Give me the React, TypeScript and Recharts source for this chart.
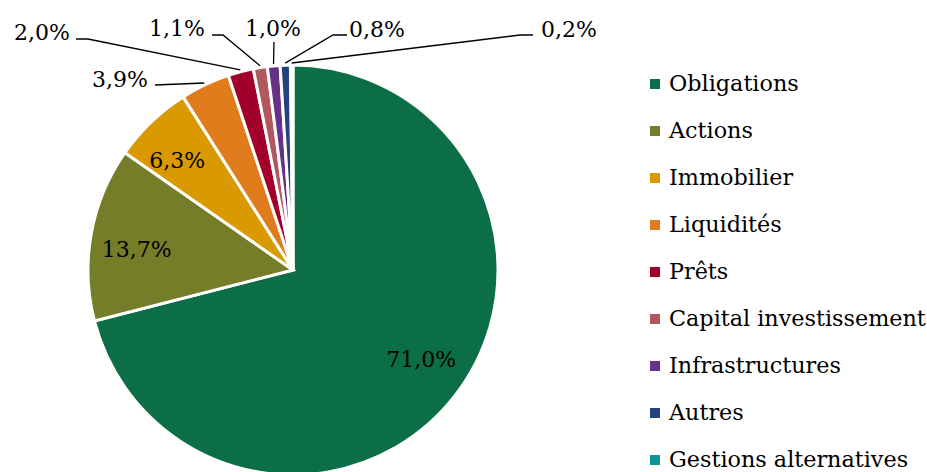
import { Cell, Legend, Pie, PieChart } from "recharts";

const categories = [
  "Obligations",
  "Actions",
  "Immobilier",
  "Liquidités",
  "Prêts",
  "Capital investissement",
  "Infrastructures",
  "Autres",
  "Gestions alternatives",
];

const shares = [71.0, 13.7, 6.3, 3.9, 2.0, 1.1, 1.0, 0.8, 0.2];

const COLORS = [
  "#0C6E47",
  "#767D28",
  "#D89A00",
  "#E07C1C",
  "#A0002A",
  "#B0585E",
  "#673089",
  "#22437D",
  "#0E9494",
];

const FONT = "'DejaVu Serif', serif";
const RAD = Math.PI / 180;

// inside labels: small nudges from the mid-angle point
const INSIDE_NUDGE: Record<number, [number, number]> = {
  0: [5, -6],
  1: [-3, 7],
  2: [-8, 3],
};

// outside labels: text spot + leader line elbow
const LABEL_LAYOUT: ({ tx: number; ty: number; anchor: "start" | "middle" | "end"; ex: number; ey: number; hx: number } | null)[] = [
  null,
  null,
  null,
  { tx: 148, ty: 87, anchor: "end", ex: 155, ey: 85, hx: 155 },
  { tx: 70, ty: 40, anchor: "end", ex: 88, ey: 39, hx: 76 },
  { tx: 205, ty: 36, anchor: "end", ex: 223, ey: 35, hx: 212 },
  { tx: 273, ty: 36, anchor: "middle", ex: 274, ey: 42, hx: 274 },
  { tx: 349, ty: 37, anchor: "start", ex: 333, ey: 35, hx: 347 },
  { tx: 541, ty: 37, anchor: "start", ex: 520, ey: 35, hx: 533 },
];

const data = categories.map((name, i) => ({ name, value: shares[i] }));

const fmt = (v: number) => v.toFixed(1).replace(".", ",") + "%";

function renderLabel(props: any) {
  const { cx, cy, midAngle, outerRadius, index, value } = props;
  const layout = LABEL_LAYOUT[index];
  const cos = Math.cos(-midAngle * RAD);
  const sin = Math.sin(-midAngle * RAD);
  if (!layout) {
    const r = outerRadius * 0.76;
    const [nx, ny] = INSIDE_NUDGE[index] || [0, 0];
    return (
      <text
        x={cx + r * cos + nx}
        y={cy + r * sin + ny}
        textAnchor="middle"
        dominantBaseline="central"
        fontFamily={FONT}
        fontSize={22}
        fill="#000"
      >
        {fmt(value)}
      </text>
    );
  }
  const sx = cx + (outerRadius + 2) * cos;
  const sy = cy + (outerRadius + 2) * sin;
  return (
    <g>
      <polyline
        points={`${sx},${sy} ${layout.ex},${layout.ey} ${layout.hx},${layout.ey}`}
        fill="none"
        stroke="#000"
        strokeWidth={1.3}
      />
      <text
        x={layout.tx}
        y={layout.ty}
        textAnchor={layout.anchor}
        fontFamily={FONT}
        fontSize={22}
        fill="#000"
      >
        {fmt(value)}
      </text>
    </g>
  );
}

function LegendContent() {
  return (
    <div style={{ fontFamily: FONT, fontSize: 22.3, color: "#000" }}>
      {categories.map((name, i) => (
        <div
          key={name}
          style={{ display: "flex", alignItems: "center", height: 47, lineHeight: "47px" }}
        >
          <span
            style={{
              display: "inline-block",
              width: 10,
              height: 10,
              background: COLORS[i],
              marginRight: 9,
            }}
          />
          <span style={{ whiteSpace: "nowrap" }}>{name}</span>
        </div>
      ))}
    </div>
  );
}

export default function App() {
  return (
    <div style={{ position: "absolute", left: 0, top: 0, width: 927, height: 472, background: "#fff" }}>
      <PieChart width={927} height={472} margin={{ top: 0, right: 0, bottom: 0, left: 0 }}>
        <Pie
          data={data}
          dataKey="value"
          nameKey="name"
          cx={293}
          cy={270}
          outerRadius={205}
          startAngle={90}
          endAngle={-270}
          stroke="#fff"
          strokeWidth={3}
          label={renderLabel}
          labelLine={false}
          isAnimationActive={false}
        >
          {data.map((_, i) => (
            <Cell key={`cell-${i}`} fill={COLORS[i]} />
          ))}
        </Pie>
        <Legend
          layout="vertical"
          content={<LegendContent />}
          wrapperStyle={{ left: 650, top: 60, width: 277 }}
        />
      </PieChart>
    </div>
  );
}
